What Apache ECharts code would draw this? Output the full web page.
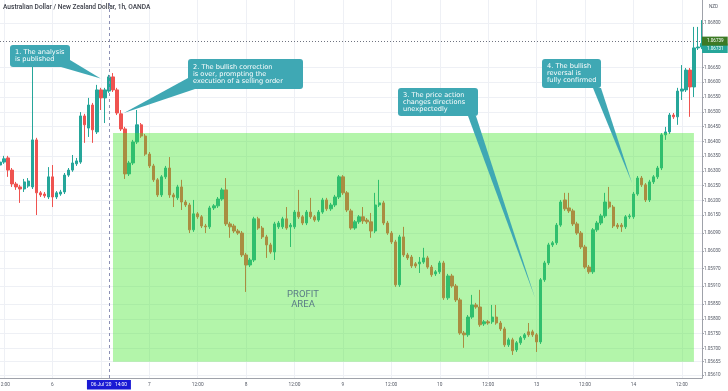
<!DOCTYPE html>
<html><head><meta charset="utf-8">
<script src="https://cdn.jsdelivr.net/npm/echarts@6/dist/echarts.min.js"></script>
<style>html,body{margin:0;padding:0;background:#fff}#c{width:728px;height:391px}</style>
</head><body><div id="c"></div>
<script>
// ---- data (AUD/NZD 1h candles) ----
const opens = [1.06320,1.06330,1.06344,1.06303,1.06256,1.06246,1.06239,1.06249,1.06246,1.06405,
 1.06226,1.06222,1.06212,1.06280,1.06212,1.06222,1.06229,1.06286,1.06303,1.06324,
 1.06330,1.06486,1.06445,1.06523,1.06432,1.06574,1.06547,1.06570,1.06618,1.06574,
 1.06493,1.06442,1.06290,1.06327,1.06398,1.06456,1.06418,1.06357,1.06317,1.06270,
 1.06219,1.06280,1.06310,1.06219,1.06209,1.06246,1.06195,1.06185,1.06101,1.06155,
 1.06145,1.06114,1.06111,1.06175,1.06182,1.06205,1.06236,1.06121,1.06114,1.06097,
 1.06090,1.06016,1.05982,1.05999,1.06138,1.06107,1.06077,1.06050,1.06026,1.06111,
 1.06111,1.06138,1.06111,1.06111,1.06161,1.06145,1.06124,1.06161,1.06145,1.06134,
 1.06161,1.06202,1.06172,1.06185,1.06212,1.06280,1.06226,1.06165,1.06107,1.06128,
 1.06145,1.06134,1.06128,1.06097,1.06185,1.06192,1.06124,1.06090,1.06060,1.05915,
 1.06077,1.06016,1.06009,1.05986,1.05986,1.05992,1.06006,1.05975,1.05952,1.05959,
 1.05989,1.05871,1.05945,1.05911,1.05864,1.05752,1.05746,1.05806,1.05847,1.05840,
 1.05783,1.05790,1.05790,1.05806,1.05786,1.05766,1.05712,1.05729,1.05695,1.05719,
 1.05736,1.05756,1.05756,1.05746,1.05722,1.05932,1.05989,1.06050,1.06057,1.06117,
 1.06202,1.06175,1.06165,1.06121,1.06090,1.06043,1.05975,1.05959,1.06101,1.06124,
 1.06148,1.06195,1.06178,1.06117,1.06117,1.06111,1.06145,1.06145,1.06222,1.06276,
 1.06253,1.06202,1.06263,1.06280,1.06310,1.06422,1.06432,1.06489,1.06483,1.06570,
 1.06574,1.06641,1.06584,1.06716,1.06719];
const closes = [1.06330,1.06341,1.06303,1.06256,1.06246,1.06239,1.06263,1.06266,1.06405,1.06226,
 1.06219,1.06216,1.06280,1.06212,1.06226,1.06229,1.06286,1.06303,1.06327,1.06334,
 1.06486,1.06456,1.06523,1.06439,1.06574,1.06547,1.06574,1.06618,1.06574,1.06496,
 1.06442,1.06290,1.06327,1.06398,1.06456,1.06418,1.06357,1.06317,1.06270,1.06219,
 1.06280,1.06310,1.06219,1.06212,1.06246,1.06195,1.06185,1.06101,1.06155,1.06145,
 1.06114,1.06111,1.06175,1.06182,1.06205,1.06236,1.06121,1.06111,1.06097,1.06090,
 1.06016,1.05982,1.05999,1.06138,1.06107,1.06077,1.06050,1.06026,1.06121,1.06124,
 1.06138,1.06107,1.06117,1.06161,1.06145,1.06124,1.06161,1.06145,1.06134,1.06161,
 1.06202,1.06172,1.06185,1.06212,1.06280,1.06226,1.06168,1.06107,1.06128,1.06145,
 1.06131,1.06128,1.06097,1.06185,1.06192,1.06124,1.06090,1.06060,1.05915,1.06077,
 1.06016,1.06006,1.05979,1.05979,1.05992,1.06006,1.05975,1.05949,1.05959,1.05989,
 1.05871,1.05945,1.05911,1.05864,1.05752,1.05746,1.05806,1.05847,1.05840,1.05780,
 1.05790,1.05786,1.05806,1.05786,1.05766,1.05712,1.05729,1.05692,1.05719,1.05736,
 1.05746,1.05746,1.05746,1.05722,1.05932,1.05989,1.06050,1.06057,1.06117,1.06195,
 1.06172,1.06165,1.06121,1.06090,1.06043,1.05975,1.05959,1.06101,1.06124,1.06148,
 1.06195,1.06178,1.06114,1.06111,1.06111,1.06145,1.06148,1.06222,1.06276,1.06253,
 1.06202,1.06263,1.06280,1.06310,1.06422,1.06432,1.06489,1.06483,1.06570,1.06577,
 1.06641,1.06584,1.06716,1.06719,1.06731];
const lows = [1.06313,1.06324,1.06280,1.06246,1.06236,1.06192,1.06229,1.06243,1.06239,1.06151,
 1.06212,1.06209,1.06205,1.06178,1.06205,1.06216,1.06222,1.06280,1.06297,1.06317,
 1.06324,1.06395,1.06415,1.06395,1.06425,1.06506,1.06462,1.06564,1.06567,1.06489,
 1.06435,1.06273,1.06283,1.06320,1.06391,1.06412,1.06351,1.06310,1.06263,1.06212,
 1.06212,1.06273,1.06209,1.06178,1.06202,1.06168,1.06178,1.06090,1.06094,1.06138,
 1.06107,1.06090,1.06104,1.06168,1.06175,1.06199,1.06114,1.06074,1.06090,1.06084,
 1.06009,1.05891,1.05975,1.05992,1.06101,1.06070,1.06006,1.06020,1.05999,1.06104,
 1.06104,1.06101,1.06043,1.06104,1.06138,1.06117,1.06117,1.06138,1.06128,1.06128,
 1.06155,1.06165,1.06165,1.06178,1.06205,1.06219,1.06161,1.06101,1.06101,1.06121,
 1.06121,1.06121,1.06074,1.06090,1.06178,1.06117,1.06084,1.06053,1.05908,1.05908,
 1.06009,1.05999,1.05972,1.05972,1.05955,1.05986,1.05969,1.05942,1.05945,1.05952,
 1.05864,1.05864,1.05905,1.05857,1.05746,1.05702,1.05739,1.05800,1.05834,1.05773,
 1.05776,1.05780,1.05783,1.05780,1.05759,1.05705,1.05705,1.05678,1.05688,1.05712,
 1.05729,1.05739,1.05739,1.05688,1.05715,1.05925,1.05982,1.06043,1.06050,1.06111,
 1.06165,1.06158,1.06114,1.06084,1.06036,1.05969,1.05952,1.05952,1.06094,1.06117,
 1.06141,1.06172,1.06107,1.06104,1.06094,1.06104,1.06138,1.06138,1.06216,1.06246,
 1.06195,1.06195,1.06256,1.06273,1.06303,1.06405,1.06425,1.06476,1.06456,1.06540,
 1.06567,1.06483,1.06550,1.06709,1.06712];
const highs = [1.06341,1.06351,1.06351,1.06310,1.06263,1.06253,1.06273,1.06276,1.06658,1.06412,
 1.06232,1.06229,1.06313,1.06320,1.06232,1.06236,1.06293,1.06310,1.06354,1.06344,
 1.06499,1.06493,1.06547,1.06530,1.06591,1.06581,1.06581,1.06625,1.06631,1.06581,
 1.06506,1.06449,1.06334,1.06405,1.06506,1.06462,1.06425,1.06364,1.06324,1.06276,
 1.06286,1.06317,1.06347,1.06226,1.06253,1.06270,1.06202,1.06192,1.06202,1.06161,
 1.06151,1.06121,1.06182,1.06188,1.06212,1.06243,1.06276,1.06128,1.06121,1.06104,
 1.06097,1.06023,1.06006,1.06145,1.06145,1.06114,1.06084,1.06057,1.06128,1.06131,
 1.06145,1.06178,1.06124,1.06168,1.06236,1.06151,1.06168,1.06209,1.06151,1.06168,
 1.06209,1.06209,1.06192,1.06219,1.06286,1.06286,1.06232,1.06172,1.06134,1.06151,
 1.06178,1.06141,1.06158,1.06226,1.06270,1.06199,1.06131,1.06097,1.06067,1.06084,
 1.06111,1.06023,1.06016,1.05992,1.06009,1.06040,1.06013,1.05982,1.05965,1.05996,
 1.05996,1.05952,1.05952,1.05918,1.05871,1.05759,1.05813,1.05881,1.05854,1.05898,
 1.05796,1.05796,1.05847,1.05847,1.05793,1.05773,1.05736,1.05736,1.05725,1.05742,
 1.05752,1.05786,1.05763,1.05752,1.05938,1.05996,1.06057,1.06063,1.06124,1.06202,
 1.06226,1.06226,1.06172,1.06128,1.06097,1.06050,1.05982,1.06107,1.06131,1.06155,
 1.06226,1.06246,1.06185,1.06124,1.06124,1.06151,1.06155,1.06229,1.06283,1.06283,
 1.06259,1.06270,1.06286,1.06317,1.06428,1.06449,1.06496,1.06496,1.06581,1.06658,
 1.06648,1.06648,1.06787,1.06787,1.06810];
const yTickLabels = [1.06800,1.06650,1.06600,1.06550,1.06500,1.06450,1.06400,1.06350,1.06300,
 1.06250,1.06200,1.06150,1.06090,1.06030,1.05970,1.05910,1.05850,1.05800,1.05750,1.05700,1.05655,1.05610];
const yMin = 1.05600, yMax = 1.06878;
const crossPrice = 1.06739, lastPrice = 1.06731;
const crossIndex = 27;                 // 06 Jul '20 14:00
const profitStart = 28, profitEnd = 172, profitTop = 1.06428, profitBottom = 1.05655;
const calloutTexts = [
  ['1. The analysis', 'is published'],
  ['2. The bullish correction', 'is over, prompting the', 'execution of a selling order'],
  ['3. The price action', 'changes directions', 'unexpectedly'],
  ['4. The bullish', 'reversal is', 'fully confirmed']
];
const calloutTargets = [[24.96, 1.06613], [30.7, 1.06496], [132.6, 1.05871], [156.65, 1.06259]];

// ---- hourly trading-session categories (Fri 3 Jul 11:00 .. Tue 14 Jul 17:00) ----
const categories = [];
(function () {
  let t = Date.UTC(2020, 6, 3, 11);
  while (categories.length < opens.length) {
    const d = new Date(t), dow = d.getUTCDay(), h = d.getUTCHours();
    const closed = (dow === 5 && h >= 21) || dow === 6 || (dow === 0 && h < 21);
    if (!closed) categories.push(d.toISOString().slice(0, 13));
    t += 3600000;
  }
})();
const candles = opens.map((o, i) => [o, closes[i], lows[i], highs[i]]);
const isMark = (v) => { const h = v.slice(11, 13); return h === '00' || h === '12'; };
const fmtX = (v) => v.slice(11, 13) === '00' ? String(parseInt(v.slice(8, 10), 10)) : '12:00';

const FONT = 'Roboto';
const NOTE_FONT = 'DejaVu Sans';
const chart = echarts.init(document.getElementById('c'), null, { renderer: 'canvas' });
const option = {
  animation: false,
  backgroundColor: '#ffffff',
  title: { text: 'Australian Dollar / New Zealand Dollar, 1h, OANDA', left: 3, top: 4, padding: 0,
    textStyle: { fontSize: 6.6, fontWeight: 500, color: '#3b3e48', fontFamily: FONT } },
  grid: { left: 0, right: 26, top: 0, bottom: 13, containLabel: false, outerBoundsMode: 'none' },
  xAxis: {
    type: 'category', data: categories, boundaryGap: false,
    axisLine: { lineStyle: { color: '#9fa2aa', width: 1 } },
    axisTick: { show: false },
    axisLabel: { interval: (i, v) => isMark(v), formatter: fmtX, fontSize: 4.8, color: '#555a66', margin: 4, fontFamily: FONT },
    splitLine: { show: true, interval: (i, v) => isMark(v), lineStyle: { color: '#eef0f5', width: 1 } }
  },
  yAxis: {
    type: 'value', position: 'right', min: yMin, max: yMax,
    axisLine: { show: true, lineStyle: { color: '#9fa2aa', width: 1 } },
    axisTick: { show: true, length: 2, customValues: yTickLabels, lineStyle: { color: '#9fa2aa' } },
    axisLabel: { customValues: yTickLabels, formatter: (v) => v.toFixed(5), fontSize: 4.6, color: '#555a66', margin: 2, fontFamily: FONT },
    splitLine: { show: false }
  },
  series: [
    { type: 'line', name: 'gridlines', data: [], silent: true, z: 0,
      markLine: { silent: true, symbol: 'none', z: 0, precision: 5, label: { show: false },
        lineStyle: { color: '#eef0f5', width: 1, type: 'solid' },
        data: yTickLabels.map(v => ({ yAxis: v })) } },
    { type: 'candlestick', name: 'AUDNZD', data: candles, barWidth: '72%', z: 2,
      itemStyle: { color: '#26a69a', color0: '#ef5350', borderColor: '#26a69a', borderColor0: '#ef5350', borderWidth: 1 },
      markArea: { silent: true, z: 3, label: { show: false },
        itemStyle: { color: 'rgba(65,230,42,0.4)' },
        data: [[{ xAxis: categories[profitStart], yAxis: profitTop }, { xAxis: categories[profitEnd], yAxis: profitBottom }]] } },
    { type: 'line', name: 'lastprice', data: [], silent: true, z: 6,
      markLine: { silent: true, symbol: 'none', z: 6, precision: 5,
        data: [
          { yAxis: lastPrice, lineStyle: { color: 'rgba(0,0,0,0)', width: 0 },
            label: { show: true, position: 'end', distance: 0, verticalAlign: 'top', formatter: () => lastPrice.toFixed(5),
              backgroundColor: '#26a69a', color: '#ffffff', fontSize: 4.6, fontFamily: FONT, padding: [2.5, 4, 2, 5] } }
        ] } },
    { type: 'line', name: 'crosshair', data: [], silent: true, z: 7,
      markLine: { silent: true, symbol: 'none', z: 7, precision: 5,
        data: [
          { xAxis: categories[crossIndex], lineStyle: { color: '#8c90b4', width: 1, type: [3, 3] },
            label: { show: true, position: 'start', distance: 2, formatter: "06 Jul '20   14:00",
              backgroundColor: '#1a1ad4', color: '#ffffff', fontSize: 4.8, fontFamily: FONT, padding: [2.5, 4, 2, 4] } },
          { yAxis: crossPrice, lineStyle: { color: '#6f7380', width: 1, type: [1, 2] },
            label: { show: true, position: 'end', distance: 0, formatter: () => crossPrice.toFixed(5),
              backgroundColor: '#3d7a25', color: '#ffffff', fontSize: 4.6, fontFamily: FONT, padding: [2, 4, 2, 5] } }
        ] } }
  ]
};
chart.setOption(option);

// ---- annotation callouts (boxes in page layout, pointer tips anchored to data) ----
const calloutLayout = [
  { box: [10, 45, 60, 22], base: [[61, 67], [70, 60]] },
  { box: [188, 59, 115, 30], base: [[188, 78], [195, 89]] },
  { box: [398, 88, 80, 28], base: [[468, 116], [476, 116]] },
  { box: [542, 59, 59, 29], base: [[593, 88], [601, 88]] }
];
function toPx(idx, price) {
  const a = chart.convertToPixel({ gridIndex: 0 }, [0, price]);
  const b = chart.convertToPixel({ gridIndex: 0 }, [1, price]);
  return [a[0] + idx * (b[0] - a[0]), a[1]];
}
const CALLOUT = '#3fa8b4';
const graphics = [];
calloutLayout.forEach((c, i) => {
  const tip = toPx(calloutTargets[i][0], calloutTargets[i][1]);
  const [x, y, w, h] = c.box;
  graphics.push({ type: 'polygon', z: 20, shape: { points: [c.base[0], c.base[1], tip] }, style: { fill: CALLOUT } });
  graphics.push({ type: 'rect', z: 21, shape: { x, y, width: w, height: h, r: 3 }, style: { fill: CALLOUT } });
  graphics.push({ type: 'text', z: 22, style: { x: x + 5, y: y + h / 2, text: calloutTexts[i].join('\n'),
    fill: '#ffffff', fontSize: 6.6, lineHeight: 7, fontFamily: NOTE_FONT, verticalAlign: 'middle', align: 'left' } });
});
graphics.push({ type: 'text', z: 22, style: { x: 303, y: 300, text: 'PROFIT\nAREA', fill: '#5a7b86',
  fontSize: 9.5, lineHeight: 10, fontFamily: FONT, align: 'center', verticalAlign: 'middle' } });
graphics.push({ type: 'text', z: 22, style: { x: 709, y: 7, text: 'NZD', fill: '#555a66',
  fontSize: 4.6, fontFamily: FONT, align: 'left', verticalAlign: 'middle' } });
chart.setOption({ graphic: graphics });
</script>
</body></html>
